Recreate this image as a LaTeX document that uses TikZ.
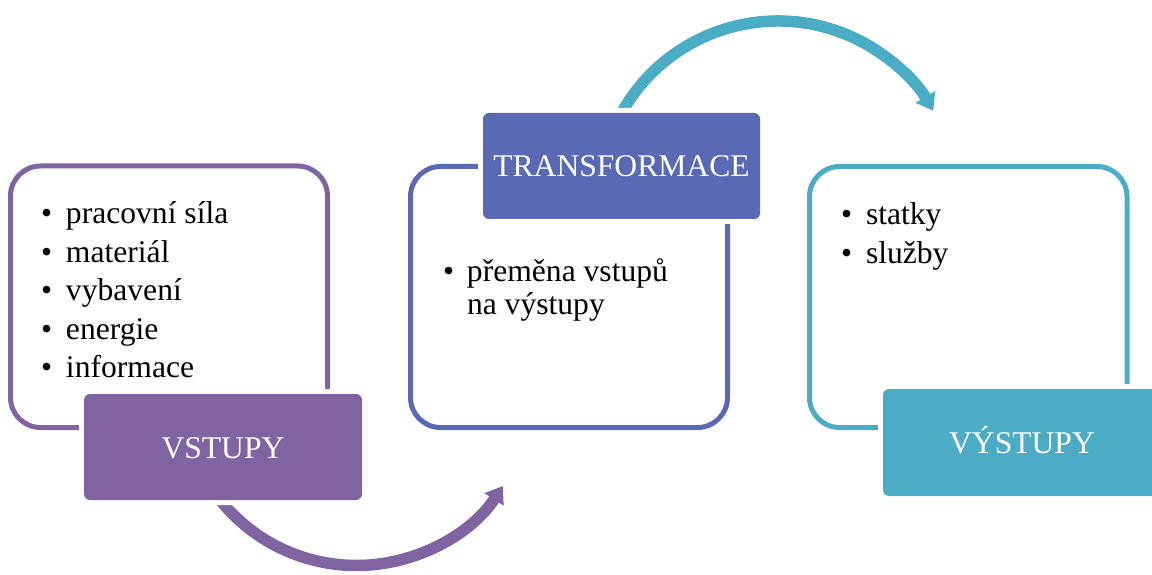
\documentclass[tikz,border=0pt]{standalone}
\usepackage{fontspec}
\setmainfont{Liberation Serif}
\usetikzlibrary{arrows.meta}
\definecolor{cPurple}{HTML}{8064A2}
\definecolor{cBlue}{HTML}{5A69B4}
\definecolor{cTeal}{HTML}{4BACC6}

\begin{document}
\begin{tikzpicture}[x=1pt,y=1pt,
  frame/.style={draw=#1, line width=5pt, rounded corners=30pt,
    inner sep=0pt, outer sep=0pt},
  tag/.style={preaction={draw=white, line width=10pt}, fill=#1,
    rounded corners=6pt, inner sep=0pt, outer sep=0pt, text=white,
    minimum width=278pt, minimum height=106pt,
    font=\fontsize{31.6}{37}\selectfont, text height=22pt, text depth=0pt},
  flow/.style={draw=#1, line width=11.5pt,
    -{Triangle[length=16pt,width=22pt]}},
  items/.style={anchor=base west, inner sep=0pt, outer sep=0pt}
]
\useasboundingbox (0,0) rectangle (1152,574);
\clip (0,0) rectangle (1152,574);

% outlined content panels
\node[frame=cPurple, minimum width=317pt, minimum height=261.5pt] (inFrame) at (169,277.25) {};
\node[frame=cBlue, minimum width=317pt, minimum height=261pt] (trFrame) at (569,277) {};
\node[frame=cTeal, minimum width=317.5pt, minimum height=261pt] (outFrame) at (968.25,277) {};

% curved flow arrows (their tails start beneath the title tabs)
\coordinate (flowAstart) at ([shift={(215:174.5)}]356.4,183);
\draw[flow=cPurple] (flowAstart) arc[start angle=215, end angle=327, radius=174.5];
\coordinate (flowBstart) at ([shift={(152:179.1)}]778,373.9);
\draw[flow=cTeal] (flowBstart) arc[start angle=152, end angle=29.9, radius=179.1];

% title tabs
\node[tag=cPurple] (inTag) at (223,127) {VSTUPY};
\node[tag=cBlue, minimum width=277pt] (trTag) at (621.5,408) {TRANSFORMACE};
\node[tag=cTeal, minimum height=107pt] (outTag) at (1022,131.5) {VÝSTUPY};

% bullet lists
\node[items] (inList) at (41,350) {\fontsize{31.6}{38.5}\selectfont
  \begin{tabular}[t]{@{}l@{}l@{}}
  \makebox[25pt][l]{•} & pracovní síla\\
  \makebox[25pt][l]{•} & materiál\\
  \makebox[25pt][l]{•} & vybavení\\
  \makebox[25pt][l]{•} & energie\\
  \makebox[25pt][l]{•} & informace
  \end{tabular}};
\node[items] (trList) at (443,292.5) {\fontsize{31.6}{33.5}\selectfont
  \begin{tabular}[t]{@{}l@{}l@{}}
  \makebox[24pt][l]{•} & přeměna vstupů\\
   & na výstupy
  \end{tabular}};
\node[items] (outList) at (841,349) {\fontsize{31.6}{38.5}\selectfont
  \begin{tabular}[t]{@{}l@{}l@{}}
  \makebox[25pt][l]{•} & statky\\
  \makebox[25pt][l]{•} & služby
  \end{tabular}};
\end{tikzpicture}
\end{document}
